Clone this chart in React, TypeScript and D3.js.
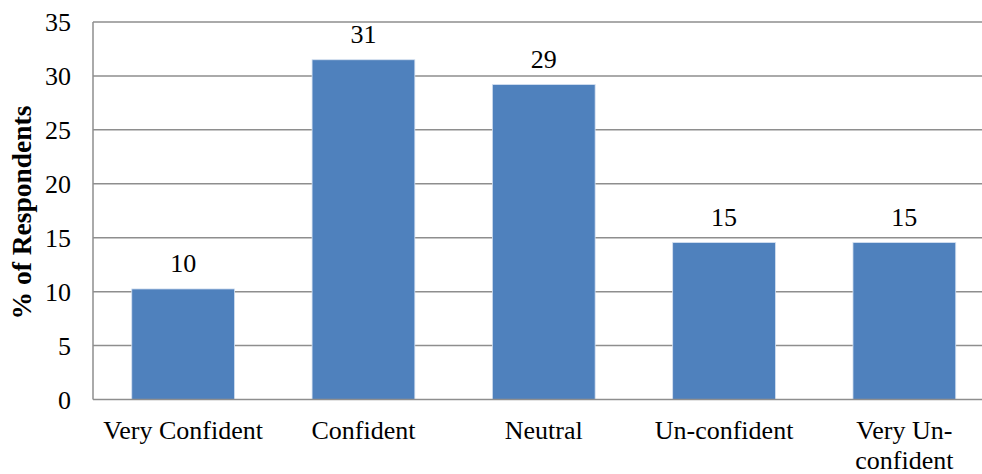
import React from "react";
import * as d3 from "d3";

const categories = ["Very Confident", "Confident", "Neutral", "Un-confident", "Very Un-confident"];
const categoryLines = [["Very Confident"], ["Confident"], ["Neutral"], ["Un-confident"], ["Very Un-", "confident"]];
const values = [10.25, 31.5, 29.2, 14.55, 14.55];
const valueLabels = ["10", "31", "29", "15", "15"];
const yTicks = [0, 5, 10, 15, 20, 25, 30, 35];
const yTitle = "% of Respondents";

export default function App() {
  const W = 982, H = 474;
  const left = 93, top = 22, bottom = 399.5;
  const step = 180.3;
  const x = d3.scaleBand<string>().domain(categories).range([left, left + step * categories.length]).paddingInner(0.43).paddingOuter(0.215);
  const y = d3.scaleLinear().domain([0, 35]).range([bottom, top]);
  const font = "'Liberation Serif', 'Times New Roman', Times, serif";
  const fs = 26;
  return (
    <svg width={W} height={H} style={{ position: "absolute", left: 0, top: 0, background: "#fff", fontFamily: font }}>
      <rect x={0} y={0} width={W} height={H} fill="#fff" />
      {yTicks.map((t) => (
        <g key={t}>
          {t > 0 && <line x1={left} x2={W} y1={y(t)} y2={y(t)} stroke="#8e8e8e" strokeWidth={1.5} />}
          <text x={71} y={y(t) + 9} fontSize={fs} textAnchor="end" fill="#000">{t}</text>
        </g>
      ))}
      <line x1={left} x2={left} y1={top} y2={bottom} stroke="#8e8e8e" strokeWidth={1.5} />
      {categories.map((c, i) => (
        <g key={c}>
          <rect x={x(c)} y={y(values[i])} width={x.bandwidth()} height={bottom - y(values[i])} fill="#4F81BD" stroke="#d4e0f0" strokeWidth={0.8} />
          <text x={(x(c) as number) + x.bandwidth() / 2} y={y(values[i]) - 17} fontSize={fs} textAnchor="middle" fill="#000">{valueLabels[i]}</text>
          {categoryLines[i].map((ln, j) => (
            <text key={j} x={(x(c) as number) + x.bandwidth() / 2} y={439 + j * 30} fontSize={fs} textAnchor="middle" fill="#000">{ln}</text>
          ))}
        </g>
      ))}
      <line x1={left} x2={W} y1={bottom} y2={bottom} stroke="#8e8e8e" strokeWidth={1.5} />
      <text transform={`translate(31, 212.5) rotate(-90)`} fontSize={27.5} fontWeight="bold" textAnchor="middle" fill="#000">{yTitle}</text>
    </svg>
  );
}
